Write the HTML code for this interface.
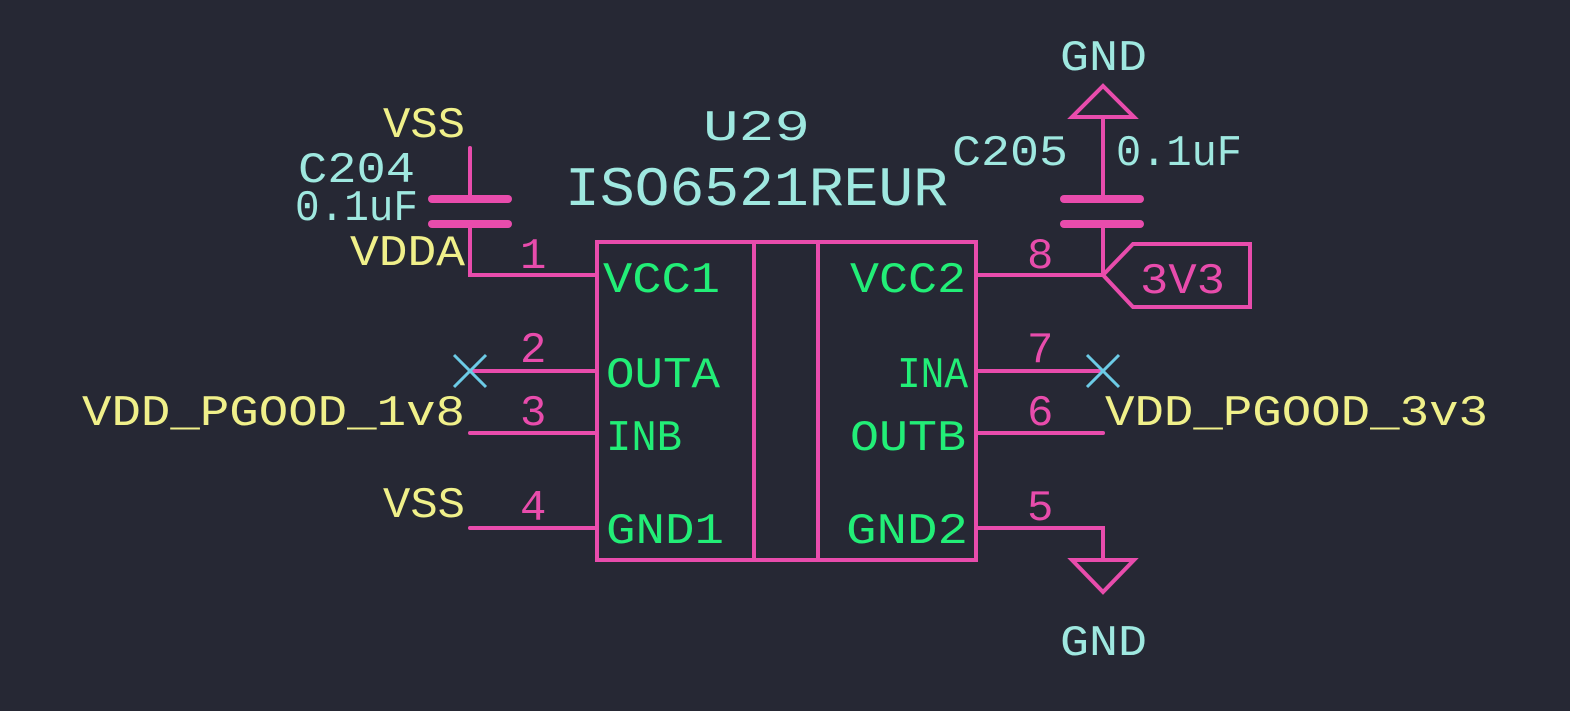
<!DOCTYPE html>
<html><head><meta charset="utf-8"><style>html,body{margin:0;padding:0;background:#262834;}svg{display:block}text{font-family:"Liberation Mono","DejaVu Sans Mono",monospace;font-size:44px}</style></head>
<body>
<svg width="1570" height="711" viewBox="0 0 1570 711" xmlns="http://www.w3.org/2000/svg">
<rect width="1570" height="711" fill="#262834"/>
<g stroke="#e84cac" stroke-width="4" fill="none" stroke-linecap="round">
<rect x="597" y="242" width="379" height="318"/>
<line x1="754" y1="242" x2="754" y2="560"/>
<line x1="818" y1="242" x2="818" y2="560"/>
<polyline points="470,148 470,198"/>
<polyline points="470,224 470,275 597,275"/>
<line x1="470" y1="371" x2="597" y2="371"/>
<line x1="470" y1="433" x2="597" y2="433"/>
<line x1="470" y1="528" x2="597" y2="528"/>
<line x1="976" y1="275" x2="1103" y2="275"/>
<line x1="976" y1="371" x2="1103" y2="371"/>
<line x1="976" y1="433" x2="1103" y2="433"/>
<polyline points="976,528 1103,528 1103,560"/>
<polygon points="1072,560 1134,560 1103,592"/>
<polygon points="1072,117 1134,117 1103,86"/>
<line x1="1103" y1="117" x2="1103" y2="198"/>
<line x1="1103" y1="224" x2="1103" y2="275"/>
<polygon points="1103,275 1133,244 1250,244 1250,307 1133,307"/>
</g>
<g stroke="#e84cac" stroke-width="8" stroke-linecap="round">
<line x1="432" y1="199" x2="508" y2="199"/>
<line x1="432" y1="224" x2="508" y2="224"/>
<line x1="1064" y1="199" x2="1140" y2="199"/>
<line x1="1064" y1="224" x2="1140" y2="224"/>
</g>
<g stroke="#6ccbe6" stroke-width="3">
<line x1="454" y1="355" x2="486" y2="387"/><line x1="486" y1="355" x2="454" y2="387"/>
<line x1="1087" y1="355" x2="1119" y2="387"/><line x1="1119" y1="355" x2="1087" y2="387"/>
</g>
<g fill="#f0f08a" lengthAdjust="spacingAndGlyphs">
<text x="383" y="137" textLength="82" lengthAdjust="spacingAndGlyphs">VSS</text>
<text x="350" y="265" textLength="115" lengthAdjust="spacingAndGlyphs">VDDA</text>
<text x="383" y="517" textLength="82" lengthAdjust="spacingAndGlyphs">VSS</text>
<text x="82" y="425" textLength="383" lengthAdjust="spacingAndGlyphs">VDD_PGOOD_1v8</text>
<text x="1105" y="425" textLength="383" lengthAdjust="spacingAndGlyphs">VDD_PGOOD_3v3</text>
</g>
<g fill="#9fe8e0">
<text x="298" y="182" textLength="117" lengthAdjust="spacingAndGlyphs">C204</text>
<text x="295" y="220" textLength="123" lengthAdjust="spacingAndGlyphs">0.1uF</text>
<text x="703" y="140" textLength="107" lengthAdjust="spacingAndGlyphs">U29</text>
<text x="565" y="205" textLength="383" lengthAdjust="spacingAndGlyphs" style="font-size:56px">ISO6521REUR</text>
<text x="952" y="165" textLength="116" lengthAdjust="spacingAndGlyphs">C205</text>
<text x="1116" y="165" textLength="126" lengthAdjust="spacingAndGlyphs">0.1uF</text>
<text x="1060" y="70" textLength="87" lengthAdjust="spacingAndGlyphs">GND</text>
<text x="1060" y="655" textLength="87" lengthAdjust="spacingAndGlyphs">GND</text>
</g>
<g fill="#e84cac">
<text x="520" y="268">1</text><text x="520" y="362">2</text><text x="520" y="425">3</text><text x="520" y="520">4</text>
<text x="1027" y="268">8</text><text x="1027" y="362">7</text><text x="1027" y="425">6</text><text x="1027" y="520">5</text>
<text x="1140" y="293" textLength="85" lengthAdjust="spacingAndGlyphs">3V3</text>
</g>
<g fill="#22ee77">
<text x="603" y="292" textLength="117" lengthAdjust="spacingAndGlyphs">VCC1</text>
<text x="606" y="387" textLength="114" lengthAdjust="spacingAndGlyphs">OUTA</text>
<text x="606" y="450" textLength="76" lengthAdjust="spacingAndGlyphs">INB</text>
<text x="606" y="543" textLength="118" lengthAdjust="spacingAndGlyphs">GND1</text>
<text x="850" y="292" textLength="116" lengthAdjust="spacingAndGlyphs">VCC2</text>
<text x="897" y="387" textLength="71" lengthAdjust="spacingAndGlyphs">INA</text>
<text x="850" y="450" textLength="116" lengthAdjust="spacingAndGlyphs">OUTB</text>
<text x="846" y="543" textLength="122" lengthAdjust="spacingAndGlyphs">GND2</text>
</g>
</svg>
</body></html>
